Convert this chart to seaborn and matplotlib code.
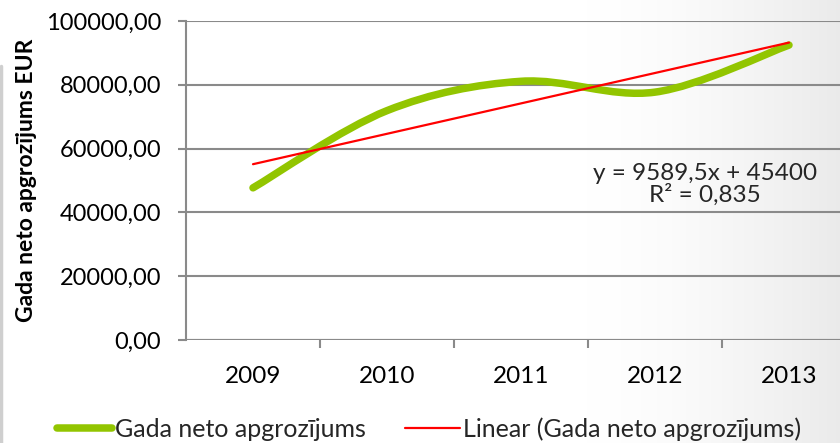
import matplotlib
matplotlib.use("Agg")
import matplotlib.pyplot as plt
from matplotlib.path import Path
from matplotlib.patches import PathPatch
from matplotlib.lines import Line2D
from matplotlib.ticker import FuncFormatter, FixedLocator
import numpy as np
import pandas as pd
import seaborn as sns

## data
years = ["2009", "2010", "2011", "2012", "2013"]
turnover = [47700, 71900, 81100, 77700, 92450]
eq_text = "y = 9589,5x + 45400\nR² = 0,835"
series_name = "Gada neto apgrozījums"
trend_name = "Linear (Gada neto apgrozījums)"
y_label = "Gada neto apgrozījums EUR"

green = "#92C500"
red = "#FF0000"
grid_col = "#8A8A8A"
fs = 17.5

sns.set_theme(style="white")
plt.rcParams['font.family'] = ['Lato', 'DejaVu Sans']

df = pd.DataFrame({"pos": np.arange(len(years)), "val": turnover})

fig = plt.figure(figsize=(8.4, 4.43), dpi=100)

# faint grey shading on the right like the slide background
bg = fig.add_axes([0, 0, 1, 1], zorder=-10)
gx = np.linspace(0, 1, 400)
grad = np.clip((gx - 0.7) / 0.3, 0, 1) ** 1.5
shade = 1 - 0.08 * grad
img = np.dstack([np.tile(shade, (10, 1))] * 3)
bg.imshow(img, aspect="auto", extent=[0, 1, 0, 1])
bg.plot([0.0015, 0.0015], [0, 0.85], color="#CFCFCF", lw=2.5)
bg.set_xlim(0, 1)
bg.set_ylim(0, 1)
bg.axis("off")

ax = fig.add_axes([186 / 840, 103 / 443, 670 / 840, 319 / 443])
ax.patch.set_alpha(0)

# trend line
sns.regplot(data=df, x="pos", y="val", ax=ax, scatter=False, ci=None,
            color=red, line_kws={"lw": 1.6, "zorder": 4})

# smoothed line (excel style bezier through the points)
xs = df["pos"].to_numpy(float)
ys = df["val"].to_numpy(float)
px = np.concatenate([[xs[0]], xs, [xs[-1]]])
py = np.concatenate([[ys[0]], ys, [ys[-1]]])
verts = [(xs[0], ys[0])]
codes = [Path.MOVETO]
for i in range(1, len(xs)):
    c1 = (px[i] + (px[i + 1] - px[i - 1]) / 6, py[i] + (py[i + 1] - py[i - 1]) / 6)
    c2 = (px[i + 1] - (px[i + 2] - px[i]) / 6, py[i + 1] - (py[i + 2] - py[i]) / 6)
    verts += [c1, c2, (px[i + 1], py[i + 1])]
    codes += [Path.CURVE4] * 3
ax.add_patch(PathPatch(Path(verts, codes), fill=False, edgecolor=green, lw=5.4,
                       capstyle="round", zorder=3))

ax.set_xlim(-0.5, len(years) - 0.5)
ax.set_ylim(0, 100000)
ax.set_yticks(np.arange(0, 100001, 20000))
ax.yaxis.set_major_formatter(FuncFormatter(lambda v, p: f"{v:.2f}".replace(".", ",")))
ax.set_xticks(df["pos"])
ax.set_xticklabels(years)
ax.xaxis.set_minor_locator(FixedLocator(np.arange(0.5, len(years) - 0.5, 1)))
ax.grid(axis="y", color=grid_col, lw=1.5, zorder=1)
ax.set_axisbelow(True)

for s in ["top", "right", "bottom"]:
    ax.spines[s].set_visible(False)
ax.spines["left"].set_color(grid_col)
ax.spines["left"].set_linewidth(1.5)
ax.axhline(0, color=grid_col, lw=1.5, zorder=2)

ax.tick_params(axis="y", which="major", left=True, length=6, width=1.5,
               color=grid_col, pad=12, labelsize=17, labelcolor="black")
ax.tick_params(axis="x", which="major", bottom=False, pad=13, labelsize=fs,
               labelcolor="black")
ax.tick_params(axis="x", which="minor", bottom=True, length=6, width=1.5,
               color=grid_col)
ax.set_xlabel("")
ax.set_ylabel(y_label, fontsize=16.5, fontweight="bold", color="black", labelpad=6)

ax.text(3.37, 48750, eq_text, ha="center", va="center", fontsize=fs,
        linespacing=1.0, zorder=5)

handles = [Line2D([], [], color=green, lw=5.4, solid_capstyle="round"),
           Line2D([], [], color=red, lw=1.6)]
fig.legend(handles, [series_name, trend_name], loc="center left",
           bbox_to_anchor=(0.068, 0.031), ncol=2, frameon=False, fontsize=18,
           handlelength=2.2, handletextpad=0.1, columnspacing=1.6, borderpad=0,
           borderaxespad=0)

fig.savefig("out.png", dpi=100)
